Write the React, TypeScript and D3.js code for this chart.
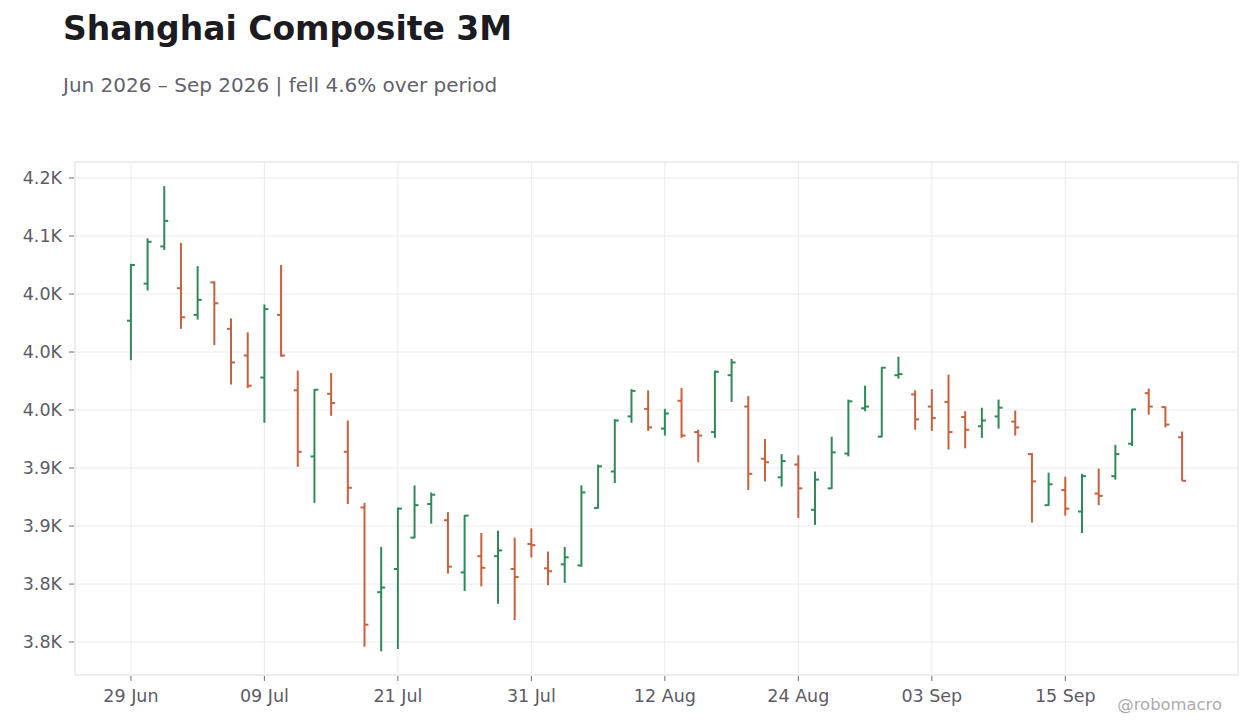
import React from "react";
import * as d3 from "d3";

const opens = [4027, 4059, 4091, 4055, 4032, 4060, 4020, 3997, 3978, 4032, 3967, 3910, 3964, 3914, 3866, 3793, 3813, 3840, 3869, 3855, 3810, 3824, 3824, 3813, 3834.5, 3813.5, 3817, 3816, 3865.5, 3897, 3944.5, 3951, 3934, 3958, 3931, 3931, 3980, 3953, 3908, 3892, 3903, 3864, 3882.5, 3912.5, 3951.5, 3927, 3980, 3963.5, 3953, 3957, 3944, 3936, 3944.5, 3940, 3912, 3868, 3881, 3862.5, 3878, 3893, 3921, 3964.5, 3952.5, 3926.5];
const highs = [4076, 4098, 4143, 4094, 4074, 4061, 4029, 4017, 4041, 4075, 3984, 3968, 3982, 3941, 3870, 3832, 3866, 3885, 3879, 3862, 3859.5, 3844, 3846, 3840, 3848, 3828, 3832, 3885, 3903, 3942, 3968, 3967, 3951, 3969, 3933, 3984, 3994, 3962, 3925, 3912, 3911, 3897, 3927, 3959, 3971, 3987, 3996, 3967, 3968, 3980.5, 3949, 3952, 3959, 3949.5, 3913, 3896, 3892.5, 3895, 3899.5, 3920, 3951, 3968.5, 3953, 3931.5];
const lows = [3993, 4053, 4088, 4020, 4028, 4006, 3972, 3969, 3939, 3996, 3901, 3870, 3945, 3869, 3746, 3742, 3744, 3839.5, 3852, 3809, 3794, 3798, 3783, 3769, 3823, 3799, 3801, 3815, 3865, 3887, 3939, 3932, 3928, 3926, 3905, 3926, 3957, 3881, 3888.5, 3884, 3857, 3851, 3882, 3910, 3949, 3926.5, 3977, 3933, 3932, 3916, 3917, 3926, 3934, 3928, 3853, 3867.5, 3859, 3844, 3868, 3890, 3919, 3946, 3935, 3889];
const closes = [4075, 4095, 4113, 4030, 4045, 4042, 3991, 3971, 4037, 3997, 3914, 3967.5, 3956, 3883, 3765, 3797, 3865, 3868, 3877, 3815, 3859, 3814, 3829, 3806, 3833.5, 3811, 3823, 3879, 3901.5, 3941, 3966.5, 3935, 3947, 3928, 3928, 3983, 3991, 3895, 3905, 3906, 3882.5, 3890, 3913.5, 3957.5, 3953, 3986.5, 3981, 3942, 3943, 3931, 3933, 3941, 3952, 3935, 3888.5, 3886, 3865, 3893, 3876, 3912, 3950.5, 3953, 3937.5, 3889];

const startDate = "2026-06-29";
const yTicks = [3750, 3800, 3850, 3900, 3950, 4000, 4050, 4100, 4150];
const xTickEvery = 8;

const title = "Shanghai Composite 3M";
const subtitle = "Jun 2026 \u2013 Sep 2026 | fell 4.6% over period";
const watermark = "@robomacro";

const W = 1260;
const H = 728;
const plot = { left: 75, right: 1238, top: 162, bottom: 675 };
const UP = "#2e8b57";
const DOWN = "#c9603e";
const FONT = "'DejaVu Sans', Verdana, sans-serif";

// trading days (weekdays) starting at startDate
const tradingDays: Date[] = (() => {
  const s = d3.timeParse("%Y-%m-%d")(startDate) as Date;
  const out: Date[] = [];
  let d = s;
  while (out.length < opens.length) {
    const wd = d.getDay();
    if (wd !== 0 && wd !== 6) out.push(d);
    d = d3.timeDay.offset(d, 1);
  }
  return out;
})();

export default function App() {
  const n = opens.length;
  const x = d3
    .scaleLinear()
    .domain([-3.35, n - 1 + 3.35])
    .range([plot.left, plot.right]);
  const y = d3
    .scaleLinear()
    .domain([3721.6, 4163.8])
    .range([plot.bottom, plot.top]);
  const fmtDate = d3.timeFormat("%d %b");
  const fmtY = (v: number) => (v / 1000).toFixed(1) + "K";
  const xTicks = d3.range(0, n, xTickEvery);
  const tickLen = 4;

  return (
    <svg
      width={W}
      height={H}
      style={{ position: "absolute", left: 0, top: 0, background: "#fff" }}
      fontFamily={FONT}
    >
      <rect x={0} y={0} width={W} height={H} fill="#fff" />
      <text x={63} y={40} fontSize={33} fontWeight="bold" fill="#1b1b21">
        {title}
      </text>
      <text x={63} y={92} fontSize={20} fill="#62626b">
        {subtitle}
      </text>

      {/* grid */}
      <g stroke="#ebebeb" strokeWidth={1}>
        {yTicks.map((t) => (
          <line key={"gy" + t} x1={plot.left} x2={plot.right} y1={y(t)} y2={y(t)} />
        ))}
        {xTicks.map((i) => (
          <line key={"gx" + i} x1={x(i)} x2={x(i)} y1={plot.top} y2={plot.bottom} />
        ))}
      </g>
      <rect
        x={plot.left}
        y={plot.top}
        width={plot.right - plot.left}
        height={plot.bottom - plot.top}
        fill="none"
        stroke="#dcdcdc"
        strokeWidth={1}
      />

      {/* y axis */}
      <g>
        {yTicks.map((t) => (
          <g key={"yt" + t}>
            <line x1={plot.left - 6} x2={plot.left - 1} y1={y(t)} y2={y(t)} stroke="#6b6b73" strokeWidth={1} />
            <text x={plot.left - 13} y={y(t)} dy="0.35em" textAnchor="end" fontSize={17.5} fill="#5c5c66">
              {fmtY(t)}
            </text>
          </g>
        ))}
      </g>

      {/* x axis */}
      <g>
        {xTicks.map((i) => (
          <g key={"xt" + i}>
            <line x1={x(i)} x2={x(i)} y1={plot.bottom + 1} y2={plot.bottom + 6} stroke="#6b6b73" strokeWidth={1} />
            <text x={x(i)} y={702} textAnchor="middle" fontSize={17.5} fill="#5c5c66">
              {fmtDate(tradingDays[i])}
            </text>
          </g>
        ))}
      </g>

      {/* OHLC bars */}
      <g>
        {opens.map((o, i) => {
          const c = closes[i];
          const col = c >= o ? UP : DOWN;
          const cx = x(i);
          return (
            <g key={"b" + i} stroke={col} strokeWidth={2}>
              <line x1={cx} x2={cx} y1={y(highs[i])} y2={y(lows[i])} />
              <line x1={cx - tickLen} x2={cx} y1={y(o)} y2={y(o)} />
              <line x1={cx} x2={cx + tickLen} y1={y(c)} y2={y(c)} />
            </g>
          );
        })}
      </g>

      <text x={1222} y={710} textAnchor="end" fontSize={16.4} fill="#ababb0">
        {watermark}
      </text>
    </svg>
  );
}
